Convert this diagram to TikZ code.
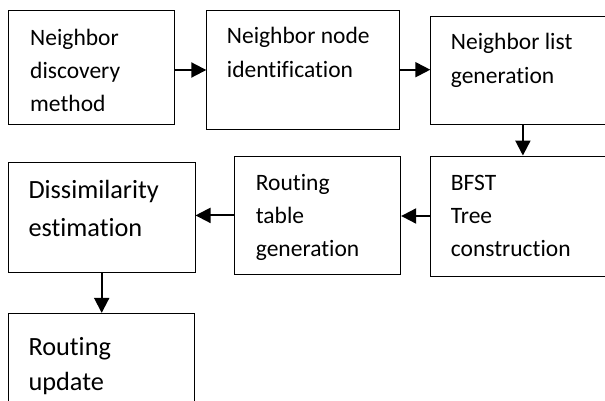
\documentclass[tikz,border=0pt]{standalone}
\usepackage{fontspec}
\setmainfont{Carlito}[Ligatures=NoCommon]
\usetikzlibrary{arrows.meta}
\begin{document}
\begin{tikzpicture}[x=1pt,y=-1pt,
  box/.style={draw=black,line width=0.9pt,inner sep=0pt},
  lbl/.style={inner sep=0pt,align=left,anchor=base west,font=\fontsize{23.5}{33.3}\selectfont},
  lblbig/.style={lbl,font=\fontsize{26.3}{37.7}\selectfont},
  arr/.style={line width=2pt,-{Triangle[length=15pt,width=15pt]}}]
\clip (0,0) rectangle (605,401);
\fill[white] (0,0) rectangle (605,401);
% boxes
\node[box,minimum width=165.7pt,minimum height=114pt] (b1) at (91.2,67) {};
\node[box,minimum width=192.3pt,minimum height=118.7pt] (b2) at (302.9,69.7) {};
\node[box,minimum width=184.3pt,minimum height=107.3pt] (b3) at (522.9,70.4) {};
\node[box,minimum width=184.3pt,minimum height=120pt] (bfst) at (522.9,216) {};
\node[box,minimum width=166.4pt,minimum height=117.3pt] (rt) at (317.5,215.4) {};
\node[box,minimum width=186.7pt,minimum height=109.7pt] (diss) at (101.7,217.2) {};
\node[box,minimum width=186pt,minimum height=106.7pt] (ru) at (101.3,366.7) {};
% labels (anchored at the baseline of the last line)
\node[lbl] (t1) at (30,111.7) {Neighbor\\discovery\\method};
\node[lbl] (t2) at (226.7,77.3) {Neighbor node\\identification};
\node[lbl] (t3) at (450.7,83.3) {Neighbor list\\generation};
\node[lbl] (t4) at (450.7,256.7) {BFST\\Tree\\construction};
\node[lbl] (t5) at (255.7,256.7) {Routing\\table\\generation};
\node[lblbig] (t6) at (28.3,236) {Dissimilarity\\estimation};
\node[lbl,font=\fontsize{26.3}{35}\selectfont] (t7) at (28.3,390) {Routing\\update};
% connectors
\draw[arr] ([yshift=-3pt]b1.east) -- ([yshift=-3pt]b1.east -| b2.west);
\draw[arr] (b2.east) -- (b2.east -| b3.west);
\draw[arr] (b3.south) -- (b3.south |- bfst.north);
\draw[arr] (bfst.west) -- (bfst.west -| rt.east);
\draw[arr] (rt.west) -- (rt.west -| diss.east);
\draw[arr] (diss.south) -- (diss.south |- ru.north);
\end{tikzpicture}
\end{document}
